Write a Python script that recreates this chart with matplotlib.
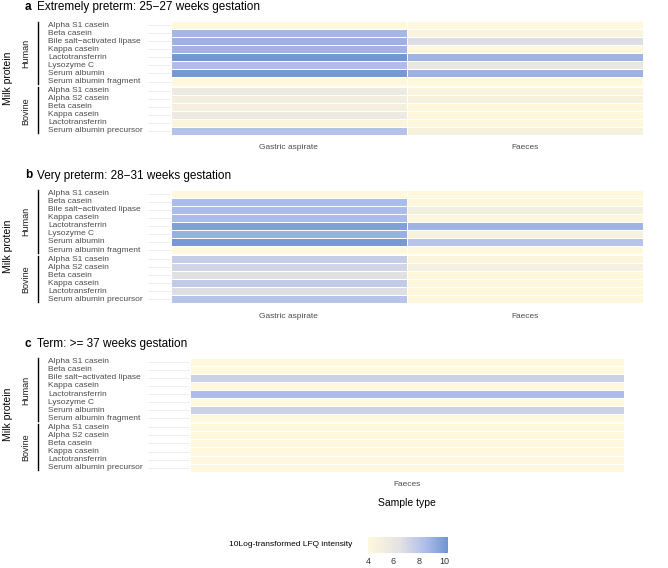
import numpy as np
import matplotlib
matplotlib.use("Agg")
import matplotlib.pyplot as plt
from matplotlib.colors import LinearSegmentedColormap, Normalize
from matplotlib.cm import ScalarMappable
from matplotlib.transforms import blended_transform_factory

plt.rcParams['font.family'] = ['Liberation Sans', 'DejaVu Sans']

# Row labels
human_proteins = ["Alpha S1 casein", "Beta casein", "Bile salt\u2212activated lipase", "Kappa casein",
                  "Lactotransferrin", "Lysozyme C", "Serum albumin", "Serum albumin fragment"]
bovine_proteins = ["Alpha S1 casein", "Alpha S2 casein", "Beta casein", "Kappa casein",
                   "Lactotransferrin", "Serum albumin precursor"]

# Panel a: extremely preterm
a_gastric_human = [4.0, 8.8, 9.0, 8.9, 10.2, 8.5, 10.1, 4.0]
a_gastric_bovine = [5.6, 5.2, 5.0, 5.6, 4.3, 8.3]
a_faeces_human = [4.0, 4.5, 6.8, 4.1, 8.9, 6.0, 9.0, 4.0]
a_faeces_bovine = [4.5, 4.8, 4.1, 4.1, 4.1, 4.8]

# Panel b: very preterm
b_gastric_human = [4.0, 8.6, 8.6, 8.6, 9.8, 9.1, 10.1, 4.0]
b_gastric_bovine = [7.6, 7.2, 6.6, 7.8, 6.7, 8.2]
b_faeces_human = [4.0, 4.1, 5.2, 4.1, 8.9, 4.9, 8.2, 4.0]
b_faeces_bovine = [4.3, 4.9, 4.1, 4.1, 4.1, 4.1]

# Panel c: term
c_faeces_human = [4.0, 4.0, 7.4, 4.0, 8.6, 4.0, 7.4, 4.0]
c_faeces_bovine = [4.0, 4.0, 4.0, 4.0, 4.0, 4.0]

panel_letters = ["a", "b", "c"]
panel_titles = ["Extremely preterm: 25\u221227 weeks gestation",
                "Very preterm: 28\u221231 weeks gestation",
                "Term: >= 37 weeks gestation"]
panel_samples = [["Gastric aspirate", "Faeces"], ["Gastric aspirate", "Faeces"], ["Faeces"]]
panel_human = [[a_gastric_human, a_faeces_human], [b_gastric_human, b_faeces_human], [c_faeces_human]]
panel_bovine = [[a_gastric_bovine, a_faeces_bovine], [b_gastric_bovine, b_faeces_bovine], [c_faeces_bovine]]

vmin, vmax = 4.0, 10.3
colour_map = LinearSegmentedColormap.from_list(
    "lfq", [(0.0, "#fff8dc"), (0.40, "#e3e2e4"), (0.72, "#aebde9"), (1.0, "#6f95d0")])
norm = Normalize(vmin=vmin, vmax=vmax)

W, H = 668, 568
fig = plt.figure(figsize=(W / 100, H / 100), dpi=100)


def fx(px):
    return px / W


def fy(py):
    return 1 - py / H


panel_tops = [21, 189.5, 357.7]
row_height = 8.07
group_gap = 1.0
panel_left, panel_right = 147, 667

for p in range(3):
    top = panel_tops[p]
    n_cols = len(panel_samples[p])
    groups = [("Human", human_proteins, panel_human[p]), ("Bovine", bovine_proteins, panel_bovine[p])]
    y_cursor = top
    for group_name, proteins, columns in groups:
        n_rows = len(proteins)
        h_px = n_rows * row_height
        ax = fig.add_axes([fx(panel_left), fy(y_cursor + h_px), fx(panel_right - panel_left), h_px / H])
        values = np.column_stack(columns)
        x_edges = np.arange(n_cols + 1) + 0.5
        y_edges = np.arange(n_rows + 1)
        # Grid lines only show to the left of the tiles
        ax.hlines(np.arange(n_rows) + 0.5, 0.4, 0.5, color="#ebebeb", lw=0.6, zorder=0)
        ax.pcolormesh(x_edges, y_edges, values, cmap=colour_map, norm=norm,
                      edgecolors="white", linewidth=0.6, zorder=1)
        ax.set_xlim(0.4, n_cols + 0.6)
        ax.set_ylim(n_rows, 0)
        ax.axis("off")

        # Row labels, left aligned
        trans = blended_transform_factory(fig.transFigure, ax.transData)
        for r, name in enumerate(proteins):
            ax.text(fx(48), r + 0.5, name, transform=trans, ha="left", va="center",
                    fontsize=6, color="#4d4d4d")

        # Facet strip
        fig.add_artist(plt.Line2D([fx(38), fx(38)], [fy(y_cursor + 0.7), fy(y_cursor + h_px - 1.5)],
                                  color="black", lw=1.0))
        fig.text(fx(26), fy(y_cursor + h_px / 2), group_name, rotation=90, ha="center", va="center",
                 fontsize=6.5, color="#1a1a1a")
        y_cursor += h_px + group_gap

    bottom = y_cursor - group_gap

    # Sample labels under the panel
    for c, sample in enumerate(panel_samples[p]):
        unit = (panel_right - panel_left) / (n_cols + 0.2)
        xc = panel_left + unit * (c + 0.6)
        fig.text(fx(xc), fy(bottom + 13), sample, ha="center", va="center", fontsize=6, color="#4d4d4d")

    fig.text(fx(8), fy((top + bottom) / 2), "Milk protein", rotation=90, ha="center", va="center",
             fontsize=7.5, color="black")
    fig.text(fx(25), fy(top - 14), panel_letters[p], ha="left", va="center", fontsize=8.5,
             fontweight="bold")
    fig.text(fx(37), fy(top - 14), panel_titles[p], ha="left", va="center", fontsize=8.5)

fig.text(fx(407), fy(503), "Sample type", ha="center", va="center", fontsize=7.5)

# Colour bar legend
cax = fig.add_axes([fx(368), fy(553), fx(80), 16 / H])
cb = fig.colorbar(ScalarMappable(norm=norm, cmap=colour_map), cax=cax, orientation="horizontal",
                  ticks=[4, 6, 8, 10])
cb.outline.set_visible(False)
cax.tick_params(length=0, labelsize=6.5, pad=3, colors="#333333")
fig.text(fx(352), fy(545), "10Log-transformed LFQ intensity", ha="right", va="center", fontsize=6)

fig.savefig("out.png", dpi=100)
